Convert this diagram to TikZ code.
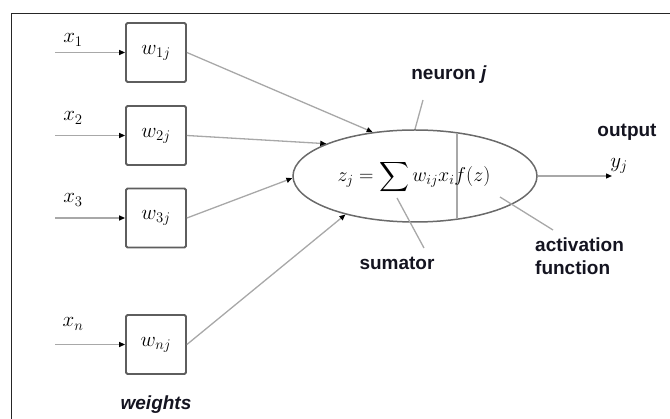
\RequirePackage{fix-cm}
\documentclass[tikz,border=0pt]{standalone}
\usepackage{amsmath}
\usepackage{fontspec}
\newfontfamily\arial{Liberation Sans}
\usetikzlibrary{arrows.meta,shapes.geometric}
\definecolor{linegray}{HTML}{A8A8A8}
\definecolor{boxgray}{HTML}{5E5E5E}
\definecolor{ellgray}{HTML}{6A6A6A}
\definecolor{labelcol}{HTML}{141420}
\begin{document}
\begin{tikzpicture}[x=1pt,y=-1pt,
  wbox/.style={draw=boxgray,line width=1.8pt,rounded corners=1.5pt,minimum width=60pt,minimum height=59pt,inner sep=0pt,font=\fontsize{21}{24}\selectfont},
  conn/.style={draw=linegray,line width=1.3pt,-{Triangle[length=6pt,width=5pt,color=black]}},
  ptr/.style={draw=linegray,line width=1.3pt},
  lbl/.style={font=\arial\bfseries\fontsize{19}{23}\selectfont,text=labelcol,inner sep=0pt},
  mlbl/.style={font=\fontsize{21}{24}\selectfont,inner sep=0pt}]
\useasboundingbox (0,0) rectangle (670,419);
\draw[line width=1pt,black!85] (11,419) -- (11,14) -- (670,14);

% weight boxes
\node[wbox] (w1) at (156,52.5) {$w_{1j}$};
\node[wbox] (w2) at (156,135.5) {$w_{2j}$};
\node[wbox] (w3) at (156,218) {$w_{3j}$};
\node[wbox] (wn) at (156,344.5) {$w_{nj}$};

% inputs
\coordinate (i1) at (55,52.5);
\coordinate (i2) at (55,135.5);
\coordinate (i3) at (55,218);
\coordinate (in) at (55,344.5);
\draw[conn] (i1) -- (w1.west);
\draw[conn] (i2) -- (w2.west);
\draw[conn] (i3) -- (w3.west);
\draw[conn] (in) -- (wn.west);
\node[mlbl] (x1) at (73,40) {$x_1$};
\node[mlbl] (x2) at (73,118) {$x_2$};
\node[mlbl] (x3) at (73,200) {$x_3$};
\node[mlbl] (xn) at (73,324) {$x_n$};

% neuron
\node[draw=ellgray,line width=1.5pt,ellipse,minimum width=244pt,minimum height=92pt,inner sep=0pt] (neuron) at (415,176) {};
\draw[ptr] (457,133) -- (457,219);
\node[mlbl,font=\fontsize{20}{24}\selectfont] (formula) at (414,177) {$z_j = \displaystyle\sum w_{ij}x_i f(z)$};

\draw[conn] (w1.east) -- (neuron.134);
\draw[conn] (w2.east) -- (neuron.160);
\draw[conn] (w3.east) -- (neuron.181);
\draw[conn] (wn.east) -- (neuron.209);

% output
\coordinate (out) at (612,176);
\draw[conn] (neuron.east) -- (out);
\node[lbl] (outlbl) at (627,132) {output};
\node[mlbl] (yj) at (619,166) {$y_j$};

% labels with pointers
\node[lbl] (nj) at (449,75) {neuron \textit{j}};
\coordinate (njp) at (423,100);
\draw[ptr] (njp) -- (neuron.north);

\node[lbl] (sum) at (397,263) {sumator};
\coordinate (sp1) at (397,198);
\coordinate (sp2) at (424,248);
\draw[ptr] (sp1) -- (sp2);

\node[lbl,anchor=west] (act1) at (535,245) {activation};
\node[lbl,anchor=west] (act2) at (535,268) {function};
\coordinate (ap1) at (500,197);
\coordinate (ap2) at (553,230);
\draw[ptr] (ap1) -- (ap2);

\node[lbl,font=\arial\bfseries\itshape\fontsize{19}{23}\selectfont] (wt) at (156,405) {weights};
\end{tikzpicture}
\end{document}
